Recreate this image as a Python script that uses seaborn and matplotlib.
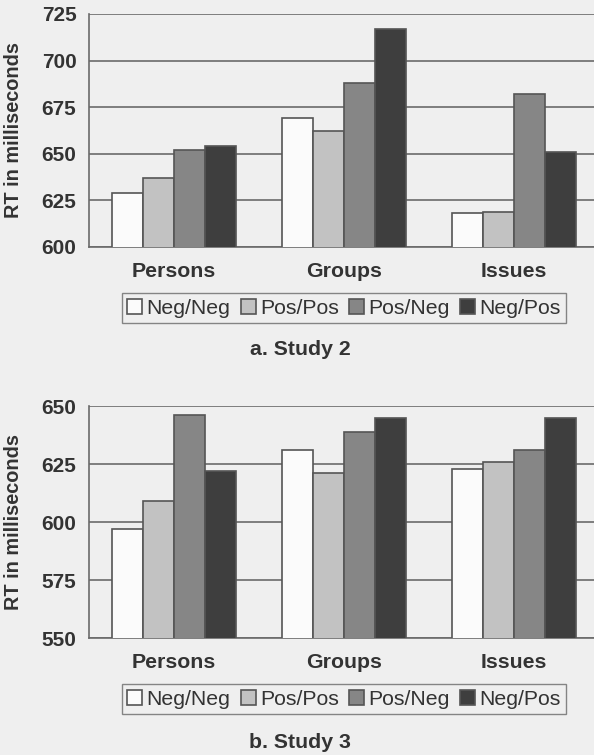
#Recreate RT bar charts for Study 2 and Study 3

import pandas as pd
import numpy as np
import matplotlib
matplotlib.use("Agg")
import matplotlib.pyplot as plt
import seaborn as sns

categories = ['Persons', 'Groups', 'Issues']
conditions = ['Neg/Neg', 'Pos/Pos', 'Pos/Neg', 'Neg/Pos']

# Study 2, one list per condition (Persons, Groups, Issues)
study2_negneg = [629, 669, 618]
study2_pospos = [637, 662, 619]
study2_posneg = [652, 688, 682]
study2_negpos = [654, 717, 651]

# Study 3
study3_negneg = [597, 631, 623]
study3_pospos = [609, 621, 626]
study3_posneg = [646, 639, 631]
study3_negpos = [622, 645, 645]

study2_ticks = [600, 625, 650, 675, 700, 725]
study3_ticks = [550, 575, 600, 625, 650]

bar_colors = ['#fbfbfb', '#c2c2c2', '#868686', '#3e3e3e']
paper = '#efefef'
line_gray = '#6a6a6a'
text_col = '#333333'


def make_df(series):
    rows = []
    for cond, vals in zip(conditions, series):
        for cat, v in zip(categories, vals):
            rows.append({'Category': cat, 'Condition': cond, 'RT': v})
    return pd.DataFrame(rows)


def draw_panel(fig, rect, df, ticks, title, title_y):
    ax = fig.add_axes(rect)
    ax.set_facecolor(paper)
    sns.barplot(data=df, x='Category', y='RT', hue='Condition',
                order=categories, hue_order=conditions,
                palette=bar_colors, width=0.73, edgecolor='#555555',
                linewidth=1.2, errorbar=None, ax=ax, zorder=3)
    ax.set_ylim(ticks[0], ticks[-1])
    ax.set_xlim(-0.5, 2.5)
    ax.set_yticks(ticks)
    ax.set_yticklabels([str(t) for t in ticks], fontsize=15, fontweight='bold', color=text_col)
    ax.yaxis.grid(True, color=line_gray, linewidth=1.2, zorder=0)
    ax.set_axisbelow(True)
    ax.tick_params(axis='y', length=6, width=1, color=line_gray, pad=3)
    ax.set_xticks([0, 1, 2])
    ax.set_xticklabels(categories, fontsize=15.3, fontweight='bold', color=text_col)
    ax.tick_params(axis='x', which='major', length=0, pad=11)
    ax.set_xticks([-0.5, 0.5, 1.5, 2.5], minor=True)
    ax.tick_params(axis='x', which='minor', length=6, width=1, color=line_gray)
    for s in ['top', 'right']:
        ax.spines[s].set_visible(False)
    for s in ['left', 'bottom']:
        ax.spines[s].set_color(line_gray)
        ax.spines[s].set_linewidth(1.2)
    ax.set_xlabel('')
    ax.set_ylabel('RT in milliseconds', fontsize=14.3, fontweight='bold', color=text_col)
    ax.yaxis.set_label_coords(-0.13, 0.5)
    ax.legend(loc='center', bbox_to_anchor=(0.5, -0.263), ncol=4,
              frameon=True, fancybox=False, edgecolor=line_gray, facecolor=paper,
              fontsize=15.3, handlelength=0.7, handleheight=0.7,
              handletextpad=0.2, columnspacing=0.5, borderpad=0.25,
              borderaxespad=0, labelcolor=text_col)
    fig.text(300 / 594, title_y, title, ha='center', va='center',
             fontsize=15.3, fontweight='bold', color=text_col)
    return ax


def main():
    sns.set_style('white')
    plt.rcParams['font.family'] = ['Liberation Sans', 'DejaVu Sans']

    fig = plt.figure(figsize=(5.94, 7.55), dpi=100, facecolor=paper)

    df2 = make_df([study2_negneg, study2_pospos, study2_posneg, study2_negpos])
    df3 = make_df([study3_negneg, study3_pospos, study3_posneg, study3_negpos])

    W, H = 594, 755
    left, right = 89 / W, 599 / W
    # top panel: y from 14 to 247 px
    draw_panel(fig, [left, 1 - 247 / H, right - left, (247 - 14) / H],
               df2, study2_ticks, 'a. Study 2', 1 - 350 / H)
    # bottom panel: y from 406 to 638 px
    draw_panel(fig, [left, 1 - 638 / H, right - left, (638 - 406) / H],
               df3, study3_ticks, 'b. Study 3', 1 - 742 / H)

    fig.savefig('out.png', dpi=100, facecolor=paper)


if __name__ == "__main__":
    main()
